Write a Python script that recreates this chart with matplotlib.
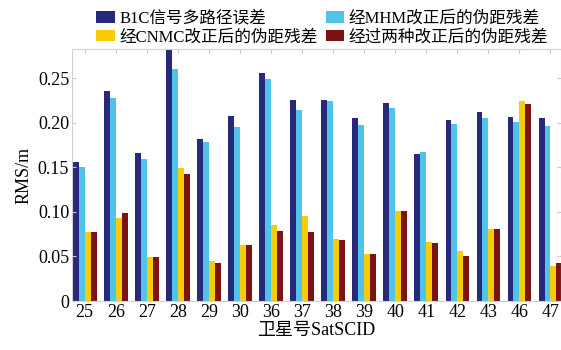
import matplotlib.pyplot as plt
import numpy as np

plt.rcParams['font.family'] = ['Liberation Serif', 'Noto Sans CJK SC']

sat_ids = ['25', '26', '27', '28', '29', '30', '36', '37', '38', '39', '40', '41', '42', '43', '46', '47']
series_names = ['B1C信号多路径误差', '经MHM改正后的伪距残差',
                '经CNMC改正后的伪距残差', '经过两种改正后的伪距残差']
b1c_mp = [0.156, 0.236, 0.166, 0.285, 0.182, 0.208, 0.256, 0.226,
          0.226, 0.205, 0.222, 0.165, 0.203, 0.212, 0.207, 0.206]
mhm_res = [0.150, 0.228, 0.159, 0.261, 0.178, 0.195, 0.249, 0.215,
           0.225, 0.198, 0.217, 0.167, 0.199, 0.205, 0.201, 0.197]
cnmc_res = [0.078, 0.093, 0.049, 0.149, 0.045, 0.063, 0.085, 0.095,
            0.070, 0.053, 0.101, 0.066, 0.056, 0.081, 0.225, 0.039]
both_res = [0.078, 0.099, 0.049, 0.143, 0.043, 0.063, 0.079, 0.077,
            0.068, 0.053, 0.101, 0.065, 0.050, 0.081, 0.221, 0.043]
colors = ['#27297a', '#4fc4e8', '#f7cb05', '#7d1212']

fig = plt.figure(figsize=(5.61, 3.5), dpi=100)
ax = fig.add_axes([72/561, 49/350, 1 - 72/561, 252/350])

x = np.arange(len(sat_ids))
w = 0.19
bars = []
for k, vals in enumerate([b1c_mp, mhm_res, cnmc_res, both_res]):
    b = ax.bar(x + (k - 1.5)*w, vals, width=w, color=colors[k], label=series_names[k],
               edgecolor='none')
    bars.append(b)

ax.set_xlim(-0.41, 15.34)
ax.set_ylim(0, 0.283)
ax.set_xticks(x)
ax.set_xticklabels(sat_ids, fontsize=13)
ax.set_yticks([0, 0.05, 0.10, 0.15, 0.20, 0.25])
ax.set_yticklabels(['0', '0.05', '0.10', '0.15', '0.20', '0.25'], fontsize=13)
ax.tick_params(direction='in', length=3, color='#c8c8c8', top=True, right=True, pad=2)
for s in ax.spines.values():
    s.set_color('#d0d0d0')
    s.set_linewidth(0.8)
ax.set_ylabel('RMS/m', fontsize=13, labelpad=4)
ax.set_xlabel('卫星号SatSCID', fontsize=13, labelpad=1)

# legend filled row by row: (B1C, MHM) / (CNMC, both)
order = [0, 2, 1, 3]
fig.legend([bars[i] for i in order], [series_names[i] for i in order], ncol=2,
           loc='upper left', bbox_to_anchor=(0.160, 0.988),
           frameon=False, fontsize=12, handlelength=1.1, handleheight=0.7,
           handletextpad=0.3, columnspacing=0.45, labelspacing=0.15, borderaxespad=0)

plt.savefig('out.png', dpi=100)
